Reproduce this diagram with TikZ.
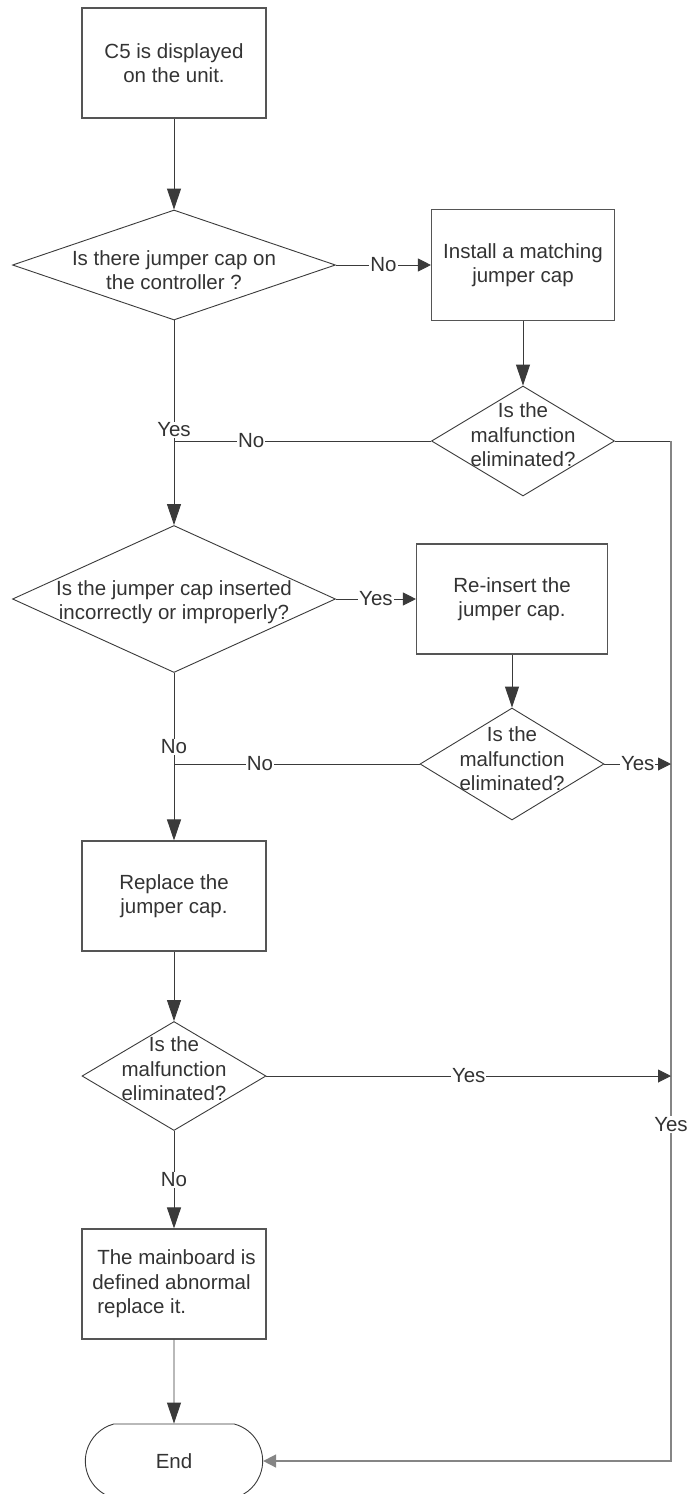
\documentclass[tikz,border=0pt]{standalone}
\usepackage{fontspec}
\setmainfont{Liberation Sans}
\usetikzlibrary{arrows.meta, positioning, shapes.geometric, shapes.misc}
\definecolor{lnclr}{HTML}{3A3A3A}
\definecolor{bxclr}{HTML}{555555}
\definecolor{txclr}{HTML}{333333}
\definecolor{rlclr}{HTML}{858585}

\begin{document}
\begin{tikzpicture}[x=1pt, y=-1pt,
  txt/.style={font=\fontsize{20.5}{24.5}\selectfont, text=txclr, align=center},
  proc/.style={rectangle, draw=bxclr, line width=1.1pt, minimum width=184pt,
    minimum height=110pt, inner sep=0pt, txt},
  decide/.style={diamond, draw=lnclr, line width=0.9pt, inner sep=0pt},
  term/.style={rounded rectangle, rounded rectangle arc length=150, draw=lnclr,
    line width=0.9pt, minimum width=184pt, minimum height=74pt, txt},
  vtip/.style={-{Triangle[length=21pt, width=14pt]}},
  htip/.style={-{Triangle[length=13pt, width=13pt]}},
  line/.style={draw=lnclr, line width=0.9pt},
  rail/.style={draw=rlclr, line width=1.6pt},
  lab/.style={font=\fontsize{20.5}{24.5}\selectfont, text=txclr, fill=white, inner sep=1pt},
]

% Page frame
\useasboundingbox (0,0) rectangle (686,1494);

% Left column
\node[proc] (shown) at (174,63) {C5 is displayed\\on the unit.};
\node[decide, minimum width=323pt, minimum height=110pt] (hascap) at (174,265) {};
\node[txt] (hascapt) at (174,270) {Is there jumper cap on\\the controller ?};
\node[decide, minimum width=323pt, minimum height=147pt] (badcap) at (174,599) {};
\node[txt] (badcapt) at (174,602) {Is the jumper cap inserted\\incorrectly or improperly?};
\node[proc] (replace) at (174,896) {Replace the\\jumper cap.};
\node[decide, minimum width=184pt, minimum height=109pt] (okC) at (174,1076) {};
\node[txt] (okCt) at (174,1069) {Is the\\malfunction\\eliminated?};
\node[proc, align=left] (board) at (174,1284)
  {\hspace*{5pt}The mainboard is\\defined abnormal\\\hspace*{5pt}replace it.};
\node[term] (stop) at (174,1461) {End};

% Right column
\node[proc, minimum width=183pt, minimum height=111pt] (install) at (523,265) {Install a matching\\jumper cap};
\node[decide, minimum width=183pt, minimum height=110pt] (okA) at (523,441) {};
\node[txt] (okAt) at (523,435) {Is the\\malfunction\\eliminated?};
\node[proc, minimum width=191pt] (reinsert) at (512,599) {Re-insert the\\jumper cap.};
\node[decide, minimum width=184pt, minimum height=112pt] (okB) at (512,764) {};
\node[txt] (okBt) at (512,759) {Is the\\malfunction\\eliminated?};

% Junctions and rail
\coordinate (joinA) at (174,441);
\coordinate (joinB) at (174,764);
\coordinate (railA) at (671,441);
\coordinate (railE) at (671,1461);

% Main flow
\draw[line, vtip] (shown) -- (hascap);
\draw[line, htip] (hascap) -- node[lab] {No} (install);
\draw[line, vtip] (install) -- (okA);
\draw[line, vtip] (hascap) -- node[lab, pos=0.535] {Yes} (badcap);
\draw[line] (okA) -- node[lab, pos=0.7] {No} (joinA);
\draw[line, htip] (badcap) -- node[lab] {Yes} (reinsert);
\draw[line, vtip] (reinsert) -- (okB);
\draw[line, vtip] (badcap) -- node[lab, pos=0.44] {No} (replace);
\draw[line] (okB) -- node[lab, pos=0.65] {No} (joinB);
\draw[line, vtip] (replace) -- (okC);
\draw[line, vtip] (okC) -- node[lab] {No} (board);
\draw[line, vtip] (board) -- (stop);

% Yes branches to the rail
\draw[line] (okA) -- (railA);
\draw[rail, htip] (railA) -- node[lab, pos=0.67] {Yes} (railE) -- (stop);
\draw[line, htip] (okB) -- node[lab] {Yes} (okB.east -| railA);
\draw[line, htip] (okC) -- node[lab] {Yes} (okC.east -| railA);
\end{tikzpicture}
\end{document}
